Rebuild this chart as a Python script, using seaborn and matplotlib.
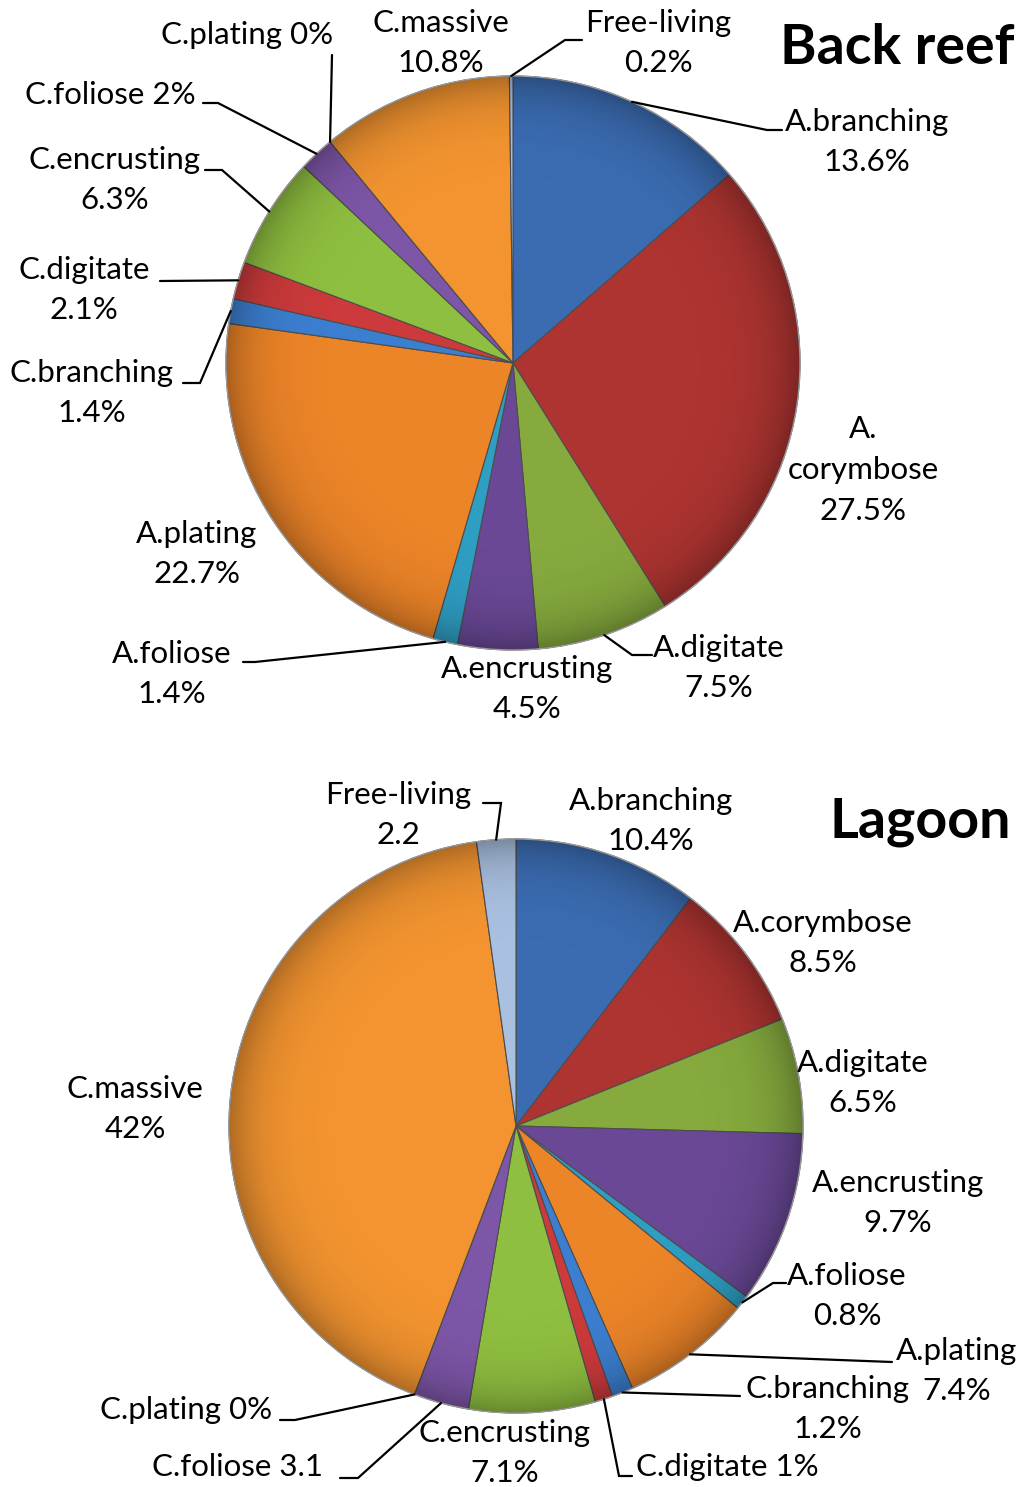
import numpy as np
import matplotlib
matplotlib.use('Agg')
import matplotlib.pyplot as plt
import seaborn as sns
from matplotlib.patches import Circle

# coral growth forms, same order for both sites (clockwise from 12 o'clock)
categories = ['A.branching', 'A.corymbose', 'A.digitate', 'A.encrusting', 'A.foliose', 'A.plating',
              'C.branching', 'C.digitate', 'C.encrusting', 'C.foliose', 'C.plating', 'C.massive',
              'Free-living']
back_reef = [13.6, 27.5, 7.5, 4.5, 1.4, 22.7, 1.4, 2.1, 6.3, 2.0, 0.0, 10.8, 0.2]
lagoon = [10.4, 8.5, 6.5, 9.7, 0.8, 7.4, 1.2, 1.0, 7.1, 3.1, 0.0, 42.0, 2.2]

back_reef_labels = ['A.branching\n13.6%', 'A.\ncorymbose\n27.5%', 'A.digitate\n7.5%',
                    'A.encrusting\n4.5%', 'A.foliose\n1.4%', 'A.plating\n22.7%',
                    'C.branching\n1.4%', 'C.digitate\n2.1%', 'C.encrusting\n6.3%',
                    'C.foliose 2%', 'C.plating 0%', 'C.massive\n10.8%', 'Free-living\n0.2%']
lagoon_labels = ['A.branching\n10.4%', 'A.corymbose\n8.5%', 'A.digitate\n6.5%',
                 'A.encrusting\n9.7%', 'A.foliose\n0.8%', 'A.plating\n7.4%',
                 'C.branching\n1.2%', 'C.digitate 1%', 'C.encrusting\n7.1%',
                 'C.foliose 3.1', 'C.plating 0%', 'C.massive\n42%', 'Free-living\n2.2']

colors = ['#3b6cb2', '#ad3431', '#86aa3e', '#6a4896', '#2e9ec3', '#ec8428',
          '#3c7fd0', '#cc3a3b', '#8fbf40', '#7e56a8', '#35b2d6', '#f39430',
          '#a9c0e0']

W, H = 1022, 1487

# layout in image pixels (x right, y down): pie centre/radius, label centres, leader elbows
back_reef_layout = {
    'center': (513, 363), 'radius': 287,
    'title': ('Back reef', 897, 48),
    'labels': [(867, 142), (863, 470), (719, 668), (527, 689), (172, 674), (197, 554),
               (92, 393), (84, 290), (115, 180), (110, 95), (247, 35), (441, 43), (658, 43)],
    'leaders': {0: [(767, 130), (782, 130)], 2: [(632, 655), (652, 655)],
                4: [(255, 662), (243, 662)], 6: [(200, 383), (183, 383)],
                7: [(160, 281), (160, 281)], 8: [(222, 170), (205, 170)],
                9: [(218, 103), (203, 103)], 10: [(332, 55), (332, 55)],
                12: [(565, 40), (582, 40)]},
}
lagoon_layout = {
    'center': (516, 1126), 'radius': 287,
    'title': ('Lagoon', 920, 822),
    'labels': [(651, 821), (823, 943), (863, 1083), (898, 1203), (847, 1296), (957, 1371),
               (828, 1409), (727, 1467), (505, 1453), (238, 1467), (186, 1410), (135, 1109),
               (398, 815)],
    'leaders': {4: [(773, 1283), (786, 1283)], 5: [(892, 1362), (892, 1362)],
                6: [(740, 1396), (740, 1396)], 7: [(619, 1476), (632, 1476)],
                9: [(358, 1478), (340, 1478)], 10: [(295, 1420), (280, 1420)],
                12: [(501, 803), (483, 803)]},
}

sns.set_theme(style='white')
plt.rcParams['font.family'] = ['Lato', 'DejaVu Sans']


def draw_pie(ax, values, labels, layout):
    cx, cy = layout['center']
    r = layout['radius']
    center = (cx, H - cy)
    wedges, _ = ax.pie(values, colors=sns.color_palette(colors), startangle=90,
                       counterclock=False, center=center, radius=r,
                       wedgeprops=dict(edgecolor='#4d4d4d', linewidth=0.8))

    # soft darkening toward the rim, like the bevelled spreadsheet pies
    n = 500
    yy, xx = np.mgrid[-1:1:n * 1j, -1:1:n * 1j]
    rr = np.hypot(xx, yy)
    shade = np.zeros((n, n, 4))
    shade[..., 3] = 0.28 * np.clip(rr, 0, 1) ** 10
    im = ax.imshow(shade, extent=(center[0] - r, center[0] + r, center[1] - r, center[1] + r),
                   zorder=2, interpolation='bilinear')
    im.set_clip_path(Circle(center, r, transform=ax.transData))
    ax.add_patch(Circle(center, r, fill=False, edgecolor='#9a9a9a', linewidth=1.0, zorder=2))

    for i, w in enumerate(wedges):
        tx, ty = layout['labels'][i]
        ax.text(tx, H - ty, labels[i], ha='center', va='center', fontsize=22.5,
                linespacing=1.55, color='black', zorder=4)
        if i in layout['leaders']:
            ang = np.deg2rad((w.theta1 + w.theta2) / 2)
            px = center[0] + r * np.cos(ang)
            py = center[1] + r * np.sin(ang)
            pts = [(px, py)] + [(x, H - y) for x, y in layout['leaders'][i]]
            ax.plot([p[0] for p in pts], [p[1] for p in pts], color='black', lw=1.6,
                    solid_joinstyle='miter', zorder=3)

    title, tx, ty = layout['title']
    ax.text(tx, H - ty, title, ha='center', va='center', fontsize=40, fontweight='bold',
            color='black', zorder=4)


fig = plt.figure(figsize=(W / 100, H / 100), dpi=100)
ax = fig.add_axes([0, 0, 1, 1])
draw_pie(ax, back_reef, back_reef_labels, back_reef_layout)
draw_pie(ax, lagoon, lagoon_labels, lagoon_layout)
ax.set_xlim(0, W)
ax.set_ylim(0, H)
ax.set_aspect('equal')
ax.axis('off')

fig.savefig('out.png', dpi=100, facecolor='white')
